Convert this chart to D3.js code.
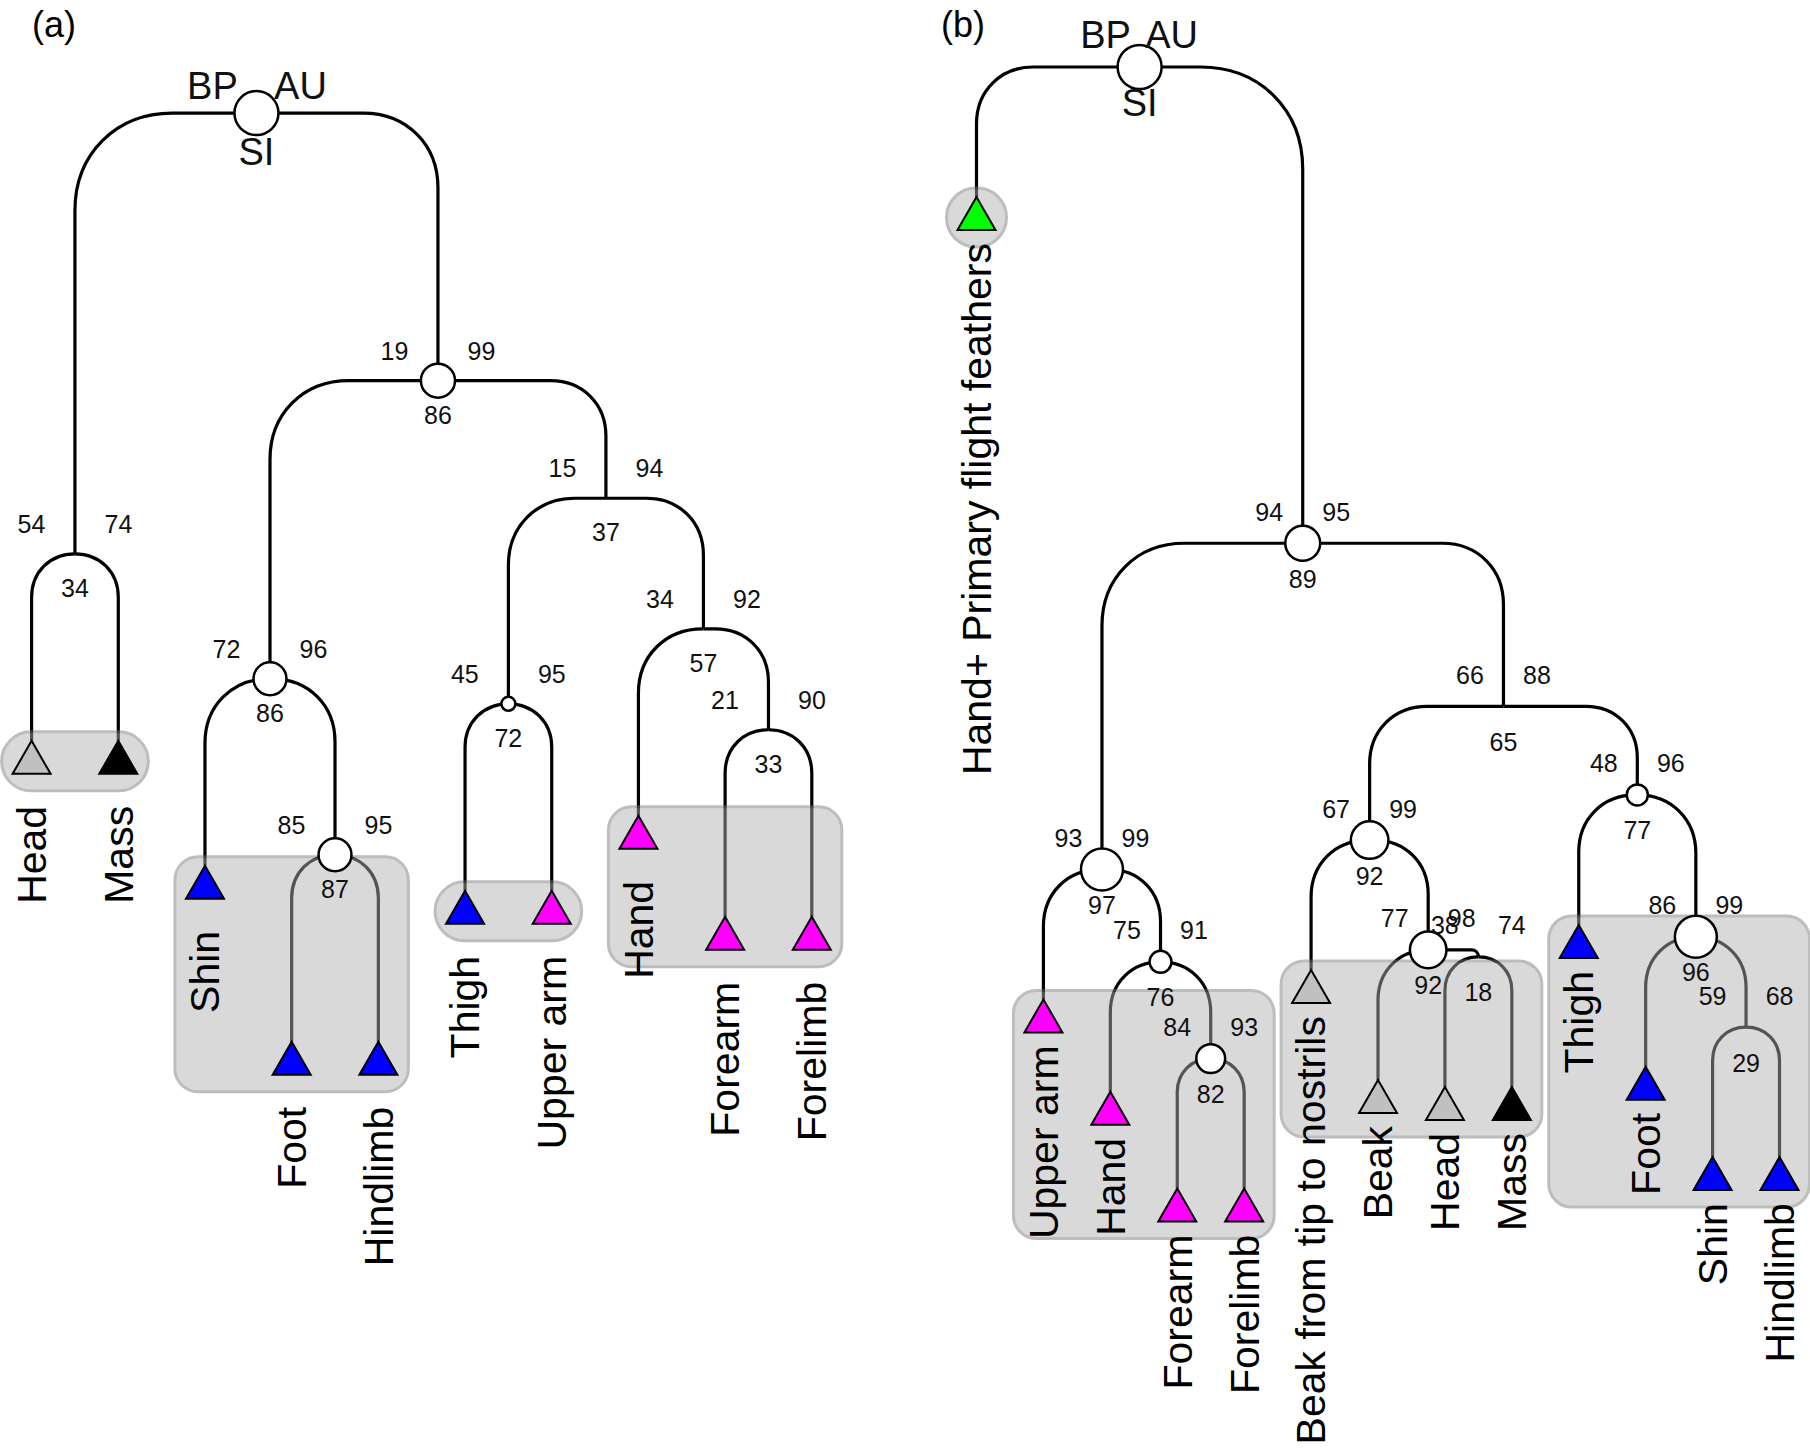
<!DOCTYPE html>
<html><head><meta charset="utf-8">
<script src="https://cdn.jsdelivr.net/npm/d3@7"></script>
<style>body{margin:0;background:#fff} svg{display:block}</style>
</head><body>
<svg id="chart" width="1810" height="1449"></svg>
<script>
// ================= DATA =================
// ---- Panel (a) ----
const leavesA = ["Head","Mass","Shin","Foot","Hindlimb","Thigh","Upper arm","Hand","Forearm","Forelimb"];
const leafGroupA = ["grey","black","blue","blue","blue","blue","magenta","magenta","magenta","magenta"];
const nodesA    = ["a0","a1","a2","a3","a4","a5","a6","a7","a8"];
const childrenA = [["a1","a2"],["Head","Mass"],["a3","a5"],["Shin","a4"],["Foot","Hindlimb"],["a6","a7"],["Thigh","Upper arm"],["Hand","a8"],["Forearm","Forelimb"]];
const heightsA  = [1.000, 0.524, 0.711, 0.389, 0.199, 0.584, 0.362, 0.443, 0.334];
const leftA     = ["BP","54","19","72","85","15","45","34","21"];
const rightA    = ["AU","74","99","96","95","94","95","92","90"];
const bottomA   = ["SI","34","86","86","87","37","72","57","33"];
const weightA   = [100, 0, 60, 56, 56, 0, 10, 0, 0];
const clustersA = [["Head","Mass"],["Shin","Foot","Hindlimb"],["Thigh","Upper arm"],["Hand","Forearm","Forelimb"]];

// ---- Panel (b) ----
const leavesB = ["Hand+ Primary flight feathers","Upper arm","Hand","Forearm","Forelimb","Beak from tip to nostrils","Beak","Head","Mass","Thigh","Foot","Shin","Hindlimb"];
const leafGroupB = ["green","magenta","magenta","magenta","magenta","grey","grey","grey","black","blue","blue","blue","blue"];
const nodesB    = ["b0","b2","b3","b4","b5","b6","b7","b8","b9","b10","b11","b12"];
const childrenB = [["Hand+ Primary flight feathers","b2"],["b3","b6"],["Upper arm","b4"],["Hand","b5"],["Forearm","Forelimb"],["b7","b10"],["Beak from tip to nostrils","b8"],["Beak","b9"],["Head","Mass"],["Thigh","b11"],["Foot","b12"],["Shin","Hindlimb"]];
const heightsB  = [1.000, 0.562, 0.262, 0.177, 0.088, 0.412, 0.289, 0.188, 0.1815, 0.3305, 0.200, 0.117];
const leftB     = ["BP","94","93","75","84","66","67","77","38","48","86","59"];
const rightB    = ["AU","95","99","91","93","88","99","98","74","96","99","68"];
const bottomB   = ["SI","89","97","76","82","65","92","92","18","77","96","29"];
const weightB   = [100, 63, 91, 25, 43, 0, 73, 69, 0, 23, 91, 0];
const clustersB = [["Hand+ Primary flight feathers"],["Upper arm","Hand","Forearm","Forelimb"],["Beak from tip to nostrils","Beak","Head","Mass"],["Thigh","Foot","Shin","Hindlimb"]];

const panelTitles = ["(a)","(b)"];

// ================= STYLE / LAYOUT =================
const groupColor = {grey:"#c0c0c0", black:"#000000", blue:"#0000ff", magenta:"#ff00ff", green:"#00ff00"};
const FONT = "'Liberation Sans', Arial, Helvetica, sans-serif";
const svg = d3.select("#chart");

const panels = [
  {leaves:leavesA, groups:leafGroupA, nodes:nodesA, children:childrenA, heights:heightsA, left:leftA, right:rightA, bottom:bottomA, weight:weightA, clusters:clustersA,
   xRange:[31.6, 811.8], yRange:[1039, 113.1], hang:187, labelGap:32, numDx:43.5, numTop:-21, numBottom:43,
   bpDx:-44, auDx:44, rootTop:-14, rootBottom:52, title:panelTitles[0], titleX:32},
  {leaves:leavesB, groups:leafGroupB, nodes:nodesB, children:childrenB, heights:heightsB, left:leftB, right:rightB, bottom:bottomB, weight:weightB, clusters:clustersB,
   xRange:[976.5, 1779.5], yRange:[1154.3, 67], hang:130, labelGap:13, numDx:33.5, numTop:-22.5, numBottom:44.5,
   bpDx:-34, auDx:32, rootTop:-19, rootBottom:49, title:panelTitles[1], titleX:941}
];

const TRI_W = 38, TRI_H = 33;

function drawPanel(P){
  const g = svg.append("g");
  const x = d3.scalePoint().domain(P.leaves).range(P.xRange);
  const y = d3.scaleLinear().domain([0,1]).range(P.yRange);
  const rad = d3.scaleSqrt().domain([0,100]).range([0,22]);
  const color = d3.scaleOrdinal().domain(Object.keys(groupColor)).range(Object.values(groupColor));

  const byId = new Map();
  P.nodes.forEach((id,i)=>byId.set(id,{id, kids:P.children[i], h:P.heights[i], i}));
  const parentOf = new Map();
  byId.forEach(n=>n.kids.forEach(k=>parentOf.set(k,n)));
  function layout(id){
    const n = byId.get(id);
    n.y = y(n.h);
    n.kids.forEach(k=>{ if(byId.has(k)) layout(k); });
    n.x = d3.mean(n.kids.map(k=> byId.has(k) ? byId.get(k).x : x(k)));
  }
  layout(P.nodes[0]);
  const leafPos = new Map(P.leaves.map((l,i)=>[l,{name:l, group:P.groups[i], x:x(l), y:parentOf.get(l).y + P.hang}]));

  // links
  const links = [];
  byId.forEach(n=>n.kids.forEach(k=>{
    const c = byId.has(k) ? byId.get(k) : leafPos.get(k);
    links.push({px:n.x, py:n.y, cx:c.x, cy:c.y});
  }));
  function linkPath(d){
    const dx = Math.abs(d.cx-d.px), dy = d.cy-d.py, s = Math.sign(d.cx-d.px);
    const rr = Math.max(0, Math.min(dx, dy, 40 + 0.13*dy));
    const k = 0.58;
    const p = d3.path();
    p.moveTo(d.px, d.py);
    p.lineTo(d.cx - s*rr, d.py);
    p.bezierCurveTo(d.cx - s*rr*(1-k), d.py, d.cx, d.py + rr*(1-k), d.cx, d.py + rr);
    p.lineTo(d.cx, d.cy);
    return p.toString();
  }
  g.append("g").selectAll("path").data(links).join("path")
    .attr("d", linkPath).attr("fill","none").attr("stroke","#000").attr("stroke-width",3.2);

  // cluster boxes
  const boxes = P.clusters.map(cl=>{
    const pts = cl.map(l=>leafPos.get(l));
    const x0 = d3.min(pts,p=>p.x)-30, x1 = d3.max(pts,p=>p.x)+30;
    const y0 = d3.min(pts,p=>p.y)-9, y1 = d3.max(pts,p=>p.y)+TRI_H+17;
    return {x0,x1,y0,y1};
  });
  g.append("g").selectAll("rect").data(boxes).join("rect")
    .attr("x",d=>d.x0).attr("y",d=>d.y0).attr("width",d=>d.x1-d.x0).attr("height",d=>d.y1-d.y0)
    .attr("rx",d=>{const m=Math.min(d.x1-d.x0,d.y1-d.y0); return m<75? m/2 : 23;})
    .attr("fill","#b0b0b0").attr("stroke","#777").attr("stroke-width",3).attr("opacity",0.48);

  // leaf triangles
  const leaves = Array.from(leafPos.values());
  g.append("g").selectAll("path").data(leaves).join("path")
    .attr("d",d=>`M${d.x},${d.y}L${d.x+TRI_W/2},${d.y+TRI_H}L${d.x-TRI_W/2},${d.y+TRI_H}Z`)
    .attr("fill",d=>color(d.group)).attr("stroke","#000").attr("stroke-width",2).attr("stroke-linejoin","miter");

  // node circles
  const nodes = Array.from(byId.values());
  g.append("g").selectAll("circle").data(nodes.filter(n=>P.weight[n.i]>0)).join("circle")
    .attr("cx",d=>d.x).attr("cy",d=>d.y).attr("r",d=>rad(P.weight[d.i]))
    .attr("fill","#fff").attr("stroke","#000").attr("stroke-width",2.5);

  // leaf labels
  g.append("g").selectAll("text").data(leaves).join("text")
    .attr("transform",d=>`translate(${d.x},${d.y+TRI_H+P.labelGap}) rotate(-90)`)
    .attr("text-anchor","end").attr("dy","0.35em")
    .style("font-family",FONT).style("font-size","41px").attr("fill","#000")
    .text(d=>d.name);

  // node value labels
  const nl = g.append("g").style("font-family",FONT).attr("fill","#111").attr("text-anchor","middle");
  nodes.forEach(n=>{
    const isRoot = n.i===0;
    const fs = isRoot ? 38 : 25;
    const dxL = isRoot ? P.bpDx : -P.numDx, dxR = isRoot ? P.auDx : P.numDx;
    const top = isRoot ? P.rootTop : P.numTop, bot = isRoot ? P.rootBottom : P.numBottom;
    nl.append("text").attr("x",n.x+dxL).attr("y",n.y+top).style("font-size",fs+"px").text(P.left[n.i]);
    nl.append("text").attr("x",n.x+dxR).attr("y",n.y+top).style("font-size",fs+"px").text(P.right[n.i]);
    nl.append("text").attr("x",n.x).attr("y",n.y+bot).style("font-size",fs+"px").text(P.bottom[n.i]);
  });

  // panel title
  g.append("text").attr("x",P.titleX).attr("y",36.5).style("font-family",FONT).style("font-size","36px")
    .attr("fill","#000").text(P.title);
}
panels.forEach(drawPanel);
</script>
</body></html>
